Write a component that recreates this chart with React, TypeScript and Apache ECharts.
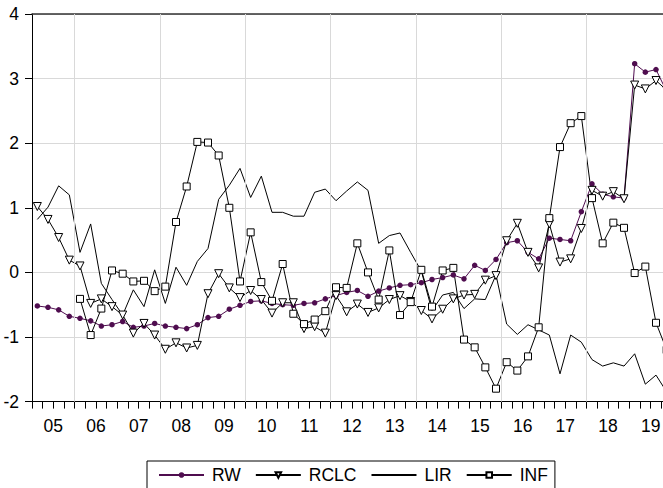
import React, { useEffect, useRef } from "react";
import * as echarts from "echarts";

// Quarterly observations, 2005Q1 .. 2019Q4
const yearLabels = ["05", "06", "07", "08", "09", "10", "11", "12", "13", "14", "15", "16", "17", "18", "19"];
const gridYears = [2006, 2008, 2010, 2012, 2014, 2016, 2018];
const firstYear = 2005;
const seriesNames = ["RW", "RCLC", "LIR", "INF"];

const RW = [
  -0.52, -0.54, -0.58, -0.68, -0.71, -0.75, -0.83, -0.81, -0.76, -0.85,
  -0.83, -0.79, -0.83, -0.85, -0.87, -0.81, -0.70, -0.68, -0.57, -0.51,
  -0.45, -0.44, -0.48, -0.50, -0.51, -0.48, -0.47, -0.41, -0.36, -0.31,
  -0.28, -0.37, -0.29, -0.24, -0.20, -0.19, -0.16, -0.11, -0.08, -0.04,
  -0.10, 0.11, 0.03, 0.20, 0.46, 0.49, 0.31, 0.21, 0.53, 0.51,
  0.49, 0.94, 1.37, 1.21, 1.17, 1.15, 3.23, 3.10, 3.14, 2.80,
];

const RCLC = [
  1.02, 0.82, 0.54, 0.19, 0.10, -0.48, -0.41, -0.53, -0.66, -0.94,
  -0.79, -0.97, -1.19, -1.09, -1.17, -1.13, -0.33, -0.02, -0.24, -0.39,
  -0.28, -0.42, -0.63, -0.47, -0.47, -0.87, -0.84, -0.94, -0.36, -0.61,
  -0.49, -0.62, -0.55, -0.42, -0.36, -0.45, -0.59, -0.72, -0.57, -0.41,
  -0.35, -0.34, -0.12, -0.05, 0.49, 0.76, 0.31, 0.07, 0.75, 0.16,
  0.21, 0.68, 1.27, 1.18, 1.25, 1.14, 2.90, 2.84, 2.97, 2.82,
];

const LIR = [
  0.82, 1.01, 1.34, 1.20, 0.31, 0.75, -0.17, -0.42, -0.66, -0.27,
  -0.53, 0.04, -0.48, 0.08, -0.20, 0.17, 0.37, 1.13, 1.35, 1.61,
  1.16, 1.49, 0.93, 0.93, 0.87, 0.87, 1.24, 1.29, 1.11, 1.26,
  1.40, 1.27, 0.45, 0.57, 0.61, 0.31, 0.02, -0.59, -0.35, -0.31,
  -0.56, -0.41, -0.42, -0.04, -0.80, -0.96, -0.81, -0.89, -0.97, -1.57,
  -0.97, -1.08, -1.35, -1.45, -1.40, -1.45, -1.26, -1.73, -1.59, -1.85,
];

const INF = [
  null, null, null, null, -0.41, -0.97, -0.56, 0.03, -0.02, -0.14,
  -0.13, -0.29, -0.22, 0.78, 1.33, 2.02, 2.01, 1.81, 1.00, -0.14,
  0.62, -0.15, -0.44, 0.13, -0.64, -0.80, -0.73, -0.60, -0.23, -0.24,
  0.45, 0.00, -0.42, 0.34, -0.66, -0.46, 0.04, -0.53, 0.03, 0.07,
  -1.04, -1.16, -1.47, -1.80, -1.39, -1.52, -1.30, -0.85, 0.84, 1.94,
  2.31, 2.42, 1.15, 0.45, 0.77, 0.69, -0.01, 0.09, -0.78, -1.20,
];

const FONT = "'Liberation Sans', Arial, sans-serif";
const FS = 17.5;

function toPoints(values: (number | null)[]) {
  return values.map((v, i) => [i + 0.5, v]);
}

export default function App() {
  const ref = useRef<HTMLDivElement>(null);

  useEffect(() => {
    document.body.style.margin = "0";
    if (!ref.current) return;
    const chart = echarts.init(ref.current, undefined, { renderer: "svg" });
    const quarters = yearLabels.length * 4;

    const lineBase = {
      type: "line" as const,
      connectNulls: false,
      z: 3,
    };

    chart.setOption({
      animation: false,
      backgroundColor: "#ffffff",
      grid: { left: 32, top: 14, width: 640, height: 387.6 },
      legend: {
        data: seriesNames,
        left: 147,
        top: 461,
        orient: "horizontal",
        borderColor: "#000",
        borderWidth: 1,
        borderRadius: 0,
        padding: [5, 7, 5, 11],
        itemWidth: 45,
        itemHeight: 7,
        itemGap: 14,
        textStyle: {
          fontFamily: FONT,
          fontSize: FS,
          color: "#000",
          padding: [0, 0, 0, 3],
        },
      },
      xAxis: [
        {
          type: "value",
          position: "bottom",
          min: 0,
          max: quarters,
          interval: 1,
          axisLine: { show: true, onZero: false, lineStyle: { color: "#000", width: 1 } },
          axisTick: { show: true, length: 7, lineStyle: { color: "#000", width: 1 } },
          splitLine: { show: false },
          axisLabel: {
            show: true,
            margin: 15,
            hideOverlap: false,
            showMinLabel: true,
            showMaxLabel: true,
            fontFamily: FONT,
            fontSize: FS,
            color: "#000",
            formatter: (v: number) => {
              const k = Math.round(v);
              if (k % 4 !== 2) return "";
              const idx = (k - 2) / 4;
              return yearLabels[idx] ?? "";
            },
          },
        },
        {
          type: "value",
          position: "top",
          min: 0,
          max: quarters,
          axisLine: { show: true, onZero: false, lineStyle: { color: "#333", width: 1.5 } },
          axisTick: { show: false },
          axisLabel: { show: false },
          splitLine: { show: false },
        },
      ],
      yAxis: {
        type: "value",
        min: -2,
        max: 4,
        interval: 1,
        axisLine: { show: true, onZero: false, lineStyle: { color: "#000", width: 1 } },
        axisTick: { show: true, length: 7, lineStyle: { color: "#000", width: 1 } },
        splitLine: { show: true, lineStyle: { color: "#d9d9d9", width: 1 } },
        axisLabel: {
          margin: 13,
          fontFamily: FONT,
          fontSize: FS,
          color: "#000",
        },
      },
      series: [
        {
          name: "grid",
          type: "line",
          data: [],
          z: 1,
          silent: true,
          markLine: {
            silent: true,
            symbol: ["none", "none"],
            label: { show: false },
            lineStyle: { color: "#d9d9d9", type: "solid", width: 1 },
            emphasis: { disabled: true },
            data: gridYears.map((y) => ({ xAxis: (y - firstYear) * 4 })),
          },
        },
        {
          ...lineBase,
          name: "RW",
          data: toPoints(RW),
          symbol: "circle",
          symbolSize: 5.5,
          lineStyle: { color: "#4f0d4f", width: 1 },
          itemStyle: { color: "#4f0d4f", borderColor: "#4f0d4f", borderWidth: 0 },
        },
        {
          ...lineBase,
          name: "RCLC",
          data: toPoints(RCLC),
          symbol: "triangle",
          symbolRotate: 180,
          symbolSize: 8,
          lineStyle: { color: "#000", width: 1 },
          itemStyle: { color: "#fff", borderColor: "#000", borderWidth: 1 },
        },
        {
          ...lineBase,
          name: "LIR",
          data: toPoints(LIR),
          symbol: "none",
          lineStyle: { color: "#000", width: 1 },
          itemStyle: { color: "rgba(0,0,0,0)", borderColor: "rgba(0,0,0,0)", borderWidth: 0 },
        },
        {
          ...lineBase,
          name: "INF",
          data: toPoints(INF),
          symbol: "rect",
          symbolSize: 7,
          lineStyle: { color: "#000", width: 1 },
          itemStyle: { color: "#fff", borderColor: "#000", borderWidth: 1 },
        },
      ],
    });

    return () => {
      chart.dispose();
    };
  }, []);

  return (
    <div style={{ width: 663, height: 488, overflow: "hidden", position: "relative" }}>
      <div ref={ref} style={{ width: 680, height: 488 }} />
    </div>
  );
}
